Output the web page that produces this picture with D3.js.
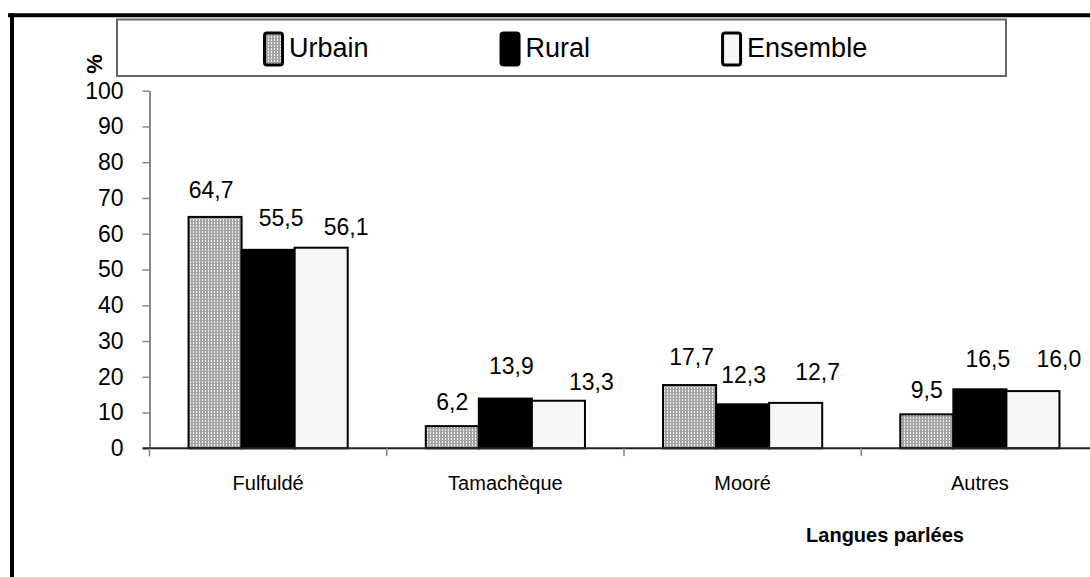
<!DOCTYPE html>
<html>
<head>
<meta charset="utf-8">
<script src="https://cdn.jsdelivr.net/npm/d3@7"></script>
<style>
  body { margin: 0; background: #fff; }
  svg { display: block; font-family: "Liberation Sans", Arial, sans-serif; }
</style>
</head>
<body>
<svg id="chart"></svg>
<script>
// data
const categories = ["Fulfuldé", "Tamachèque", "Mooré", "Autres"];
const seriesNames = ["Urbain", "Rural", "Ensemble"];
const urbain = [64.7, 6.2, 17.7, 9.5];
const rural = [55.5, 13.9, 12.3, 16.5];
const ensemble = [56.1, 13.3, 12.7, 16.0];
const yTicks = [0, 10, 20, 30, 40, 50, 60, 70, 80, 90, 100];

// label nudges (the source placed its labels a bit unevenly)
const labelDx = [[-4, 0, 2, 0], [13, 6, 1, 8], [25, 33, 22, 26]];
const labelGap = [[19, 16, 20, 16], [24, 25, 21, 22], [13, 11, 23, 24]];

let width = 1090, height = 577;
let plot = {left: 149.5, right: 1098.5, top: 90.7, bottom: 448.3};

let svg = d3.select("#chart")
    .attr("width", width)
    .attr("height", height);

let defs = svg.append("defs");
let pat = defs.append("pattern")
    .attr("id", "dots")
    .attr("patternUnits", "userSpaceOnUse")
    .attr("width", 3)
    .attr("height", 3);
pat.append("rect").attr("width", 3).attr("height", 3).attr("fill", "#a4a4a4");
pat.append("rect").attr("x", 1).attr("y", 0).attr("width", 1).attr("height", 2).attr("fill", "#f2f2f2");

let fills = ["url(#dots)", "#000", "#f7f7f7"];
let values = [urbain, rural, ensemble];

// outer frame (top and left edges)
svg.append("line")
    .attr("x1", 8).attr("x2", width)
    .attr("y1", 15.3).attr("y2", 15.3)
    .attr("stroke", "#000").attr("stroke-width", 4);
svg.append("line")
    .attr("x1", 12).attr("x2", 12)
    .attr("y1", 13.3).attr("y2", height)
    .attr("stroke", "#000").attr("stroke-width", 4);

let x = d3.scaleBand()
    .domain(categories)
    .range([plot.left, plot.right])
    .padding(0);
let xs = d3.scaleBand()
    .domain(seriesNames)
    .range([0, x.bandwidth()])
    .paddingInner(0)
    .paddingOuter(0.736);
let y = d3.scaleLinear()
    .domain([0, 100])
    .range([plot.bottom, plot.top]);

// y axis
let yAxis = svg.append("g")
    .attr("transform", "translate(" + plot.left + ",0)")
    .call(d3.axisLeft(y).tickValues(yTicks).tickSize(7).tickSizeOuter(0).tickPadding(19));
yAxis.select(".domain").attr("stroke", "#888").attr("stroke-width", 2);
yAxis.selectAll(".tick line").attr("stroke", "#888").attr("stroke-width", 1.5);
yAxis.selectAll(".tick text")
    .attr("fill", "#000")
    .style("font-size", "23px")
    .style("font-family", "'Liberation Sans', Arial, sans-serif");

// bars
values.forEach(function(vals, s) {
    svg.append("g").selectAll("rect")
        .data(vals)
        .enter().append("rect")
        .attr("x", (d, i) => x(categories[i]) + xs(seriesNames[s]))
        .attr("y", d => y(d))
        .attr("width", xs.bandwidth())
        .attr("height", d => y(0) - y(d))
        .attr("fill", fills[s])
        .attr("stroke", "#000")
        .attr("stroke-width", 2);
});

// x axis line and boundary ticks
svg.append("line")
    .attr("x1", plot.left - 7).attr("x2", width)
    .attr("y1", y(0)).attr("y2", y(0))
    .attr("stroke", "#222").attr("stroke-width", 2);
svg.append("g").selectAll("line")
    .data(categories)
    .enter().append("line")
    .attr("x1", d => x(d)).attr("x2", d => x(d))
    .attr("y1", y(0)).attr("y2", y(0) + 8)
    .attr("stroke", "#888").attr("stroke-width", 1.5);

// value labels
let fmt = d3.format(".1f");
values.forEach(function(vals, s) {
    svg.append("g").selectAll("text")
        .data(vals)
        .enter().append("text")
        .attr("x", (d, i) => x(categories[i]) + xs(seriesNames[s]) + xs.bandwidth() / 2 + labelDx[s][i])
        .attr("y", (d, i) => y(d) - labelGap[s][i])
        .attr("text-anchor", "middle")
        .style("font-size", "23px")
        .text(d => fmt(d).replace(".", ","));
});

// category labels
svg.append("g").selectAll("text")
    .data(categories)
    .enter().append("text")
    .attr("x", d => x(d) + x.bandwidth() / 2)
    .attr("y", 490)
    .attr("text-anchor", "middle")
    .style("font-size", "20px")
    .text(d => d);

svg.append("text")
    .attr("x", 885)
    .attr("y", 542)
    .attr("text-anchor", "middle")
    .style("font-size", "20px")
    .style("font-weight", "bold")
    .text("Langues parlées");

svg.append("text")
    .attr("transform", "translate(102,64) rotate(-90)")
    .attr("text-anchor", "middle")
    .style("font-size", "22px")
    .style("font-weight", "bold")
    .text("%");

// legend
svg.append("rect")
    .attr("x", 117).attr("y", 19.5)
    .attr("width", 889).attr("height", 56.5)
    .attr("fill", "#fff")
    .attr("stroke", "#666").attr("stroke-width", 2);

let lx = 263;
seriesNames.forEach(function(name, s) {
    svg.append("rect")
        .attr("x", lx + 1.5).attr("y", 33)
        .attr("width", 18).attr("height", 32)
        .attr("rx", 2.5)
        .attr("fill", fills[s])
        .attr("stroke", "#000").attr("stroke-width", 3);
    let t = svg.append("text")
        .attr("x", lx + 26)
        .attr("y", 57)
        .style("font-size", "27px")
        .text(name);
    lx += 26 + t.node().getComputedTextLength() + 131;
});
</script>
</body>
</html>
